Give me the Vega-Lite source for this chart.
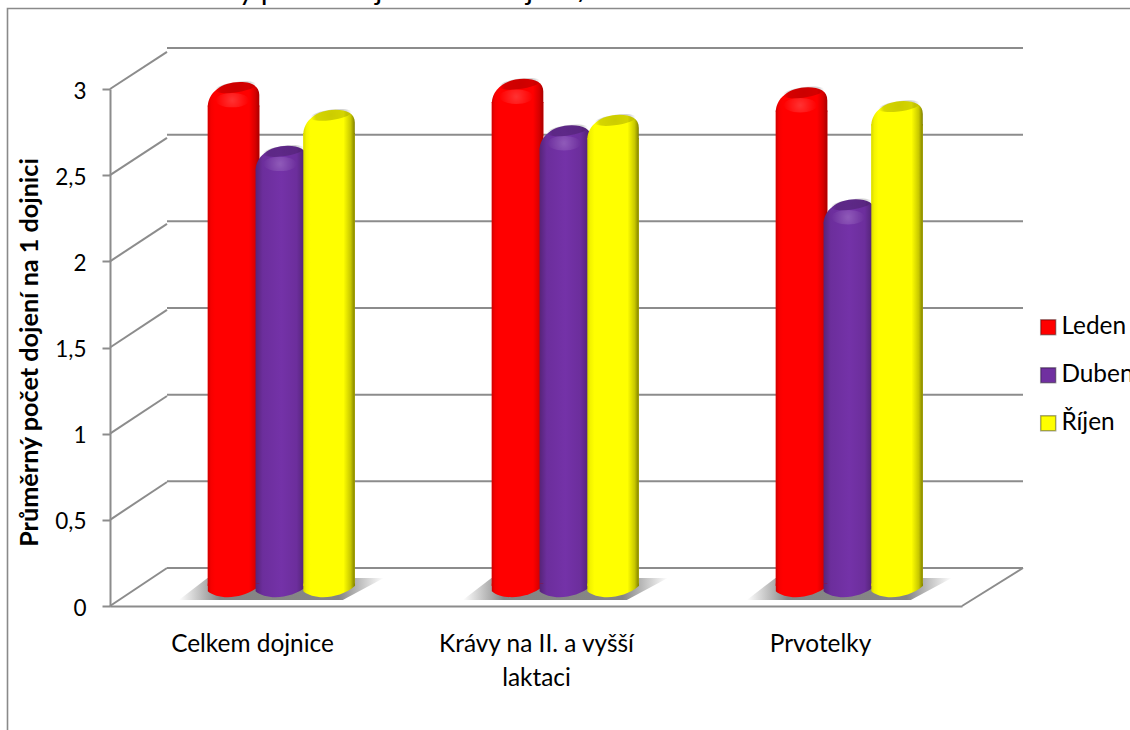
{
  "$schema": "https://vega.github.io/schema/vega-lite/v6.json",
  "width": 1130,
  "height": 730,
  "autosize": {"type": "none"},
  "padding": 0,
  "background": "white",
  "config": {"view": {"stroke": null}, "font": "Lato"},
  "params": [
    {"name": "valecLeden", "value": {"gradient": "linear", "x1": 0, "y1": 0, "x2": 1, "y2": 0, "stops": [
      {"offset": 0, "color": "#d00000"}, {"offset": 0.06, "color": "#f60000"}, {"offset": 0.14, "color": "#ff0000"},
      {"offset": 0.8, "color": "#ff0000"}, {"offset": 0.92, "color": "#d80000"}, {"offset": 1, "color": "#a80000"}]}},
    {"name": "valecDuben", "value": {"gradient": "linear", "x1": 0, "y1": 0, "x2": 1, "y2": 0, "stops": [
      {"offset": 0, "color": "#562478"}, {"offset": 0.14, "color": "#6c2e9c"}, {"offset": 0.5, "color": "#7432a8"},
      {"offset": 0.8, "color": "#6c2e9c"}, {"offset": 1, "color": "#4a2068"}]}},
    {"name": "valecRijen", "value": {"gradient": "linear", "x1": 0, "y1": 0, "x2": 1, "y2": 0, "stops": [
      {"offset": 0, "color": "#d8d800"}, {"offset": 0.06, "color": "#f4f400"}, {"offset": 0.14, "color": "#ffff00"},
      {"offset": 0.78, "color": "#ffff00"}, {"offset": 0.92, "color": "#c8c800"}, {"offset": 1, "color": "#808000"}]}}
  ],
  "datasets": {
    "dojeni": [
      {"kategorie": "Celkem dojnice", "mesic": "Leden", "hodnota": 2.87},
      {"kategorie": "Celkem dojnice", "mesic": "Duben", "hodnota": 2.50},
      {"kategorie": "Celkem dojnice", "mesic": "Říjen", "hodnota": 2.71},
      {"kategorie": "Krávy na II. a vyšší laktaci", "mesic": "Leden", "hodnota": 2.89},
      {"kategorie": "Krávy na II. a vyšší laktaci", "mesic": "Duben", "hodnota": 2.62},
      {"kategorie": "Krávy na II. a vyšší laktaci", "mesic": "Říjen", "hodnota": 2.68},
      {"kategorie": "Prvotelky", "mesic": "Leden", "hodnota": 2.84},
      {"kategorie": "Prvotelky", "mesic": "Duben", "hodnota": 2.19},
      {"kategorie": "Prvotelky", "mesic": "Říjen", "hodnota": 2.76}
    ],
    "kategorie": [
      {"kategorie": "Celkem dojnice"},
      {"kategorie": "Krávy na II. a vyšší laktaci"},
      {"kategorie": "Prvotelky"}
    ],
    "urovne": [
      {"uroven": 0}, {"uroven": 0.5}, {"uroven": 1}, {"uroven": 1.5}, {"uroven": 2}, {"uroven": 2.5}, {"uroven": 3}
    ]
  },
  "resolve": {"scale": {"x": "independent", "y": "independent"}, "axis": {"x": "independent", "y": "independent"}},
  "layer": [
    {
      "data": {"values": [{"nadpis": "Graf 11: Průměrný počet dojení na 1 dojnici/den"}]},
      "mark": {"type": "text", "align": "left", "baseline": "alphabetic", "font": "Lato", "fontSize": 29.6, "color": "black"},
      "encoding": {
        "x": {"datum": 0, "type": "quantitative", "axis": null, "scale": {"domain": [0, 1], "range": [14, 1130]}},
        "y": {"datum": 0, "type": "quantitative", "axis": null, "scale": {"domain": [0, 1], "range": [0, 730]}},
        "text": {"field": "nadpis"}
      }
    },
    {
      "data": {"values": [{}]},
      "mark": {"type": "rect", "fill": null, "stroke": "#8a8a8a", "strokeWidth": 1.6},
      "encoding": {
        "x": {"datum": 0, "type": "quantitative", "axis": null, "scale": {"domain": [0, 1], "range": [7.5, 1150]}},
        "x2": {"datum": 1},
        "y": {"datum": 0, "type": "quantitative", "axis": null, "scale": {"domain": [0, 1], "range": [8.5, 760]}},
        "y2": {"datum": 1}
      }
    },
    {
      "data": {"name": "urovne"},
      "mark": {"type": "rule", "color": "#8c8c8c", "strokeWidth": 2},
      "encoding": {
        "x": {"datum": 0, "type": "quantitative", "axis": null, "scale": {"domain": [0, 1], "range": [167, 1023]}},
        "x2": {"datum": 1},
        "y": {"field": "uroven", "type": "quantitative", "axis": null, "scale": {"domain": [0, 3], "range": [568, 48]}}
      }
    },
    {
      "data": {"name": "urovne"},
      "transform": [{"calculate": "datum.uroven * 0.9983 + 0.2205", "as": "vzadu"}],
      "mark": {"type": "rule", "color": "#8c8c8c", "strokeWidth": 2},
      "encoding": {
        "x": {"datum": 0, "type": "quantitative", "axis": null, "scale": {"domain": [0, 1], "range": [110, 167]}},
        "x2": {"datum": 1},
        "y": {
          "field": "uroven", "type": "quantitative",
          "scale": {"domain": [0, 3], "range": [606, 89], "nice": false},
          "axis": {
            "values": [0, 0.5, 1, 1.5, 2, 2.5, 3], "orient": "left", "offset": -110, "grid": false,
            "labelExpr": "replace(format(datum.value, '~g'), '.', ',')",
            "domainColor": "#8c8c8c", "domainWidth": 2, "tickColor": "#8c8c8c", "tickWidth": 2, "tickSize": 8,
            "labelFont": "Lato", "labelFontSize": 22.5, "labelColor": "black", "labelPadding": 16, "labelOffset": 2,
            "title": "Průměrný počet dojení na 1 dojnici", "titleFont": "Lato", "titleFontSize": 25.2, "titleFontWeight": "bold", "titleColor": "black", "titlePadding": 12, "titleY": 352
          }
        },
        "y2": {"field": "vzadu"}
      }
    },
    {
      "data": {"values": [{}]},
      "mark": {"type": "rule", "color": "#8c8c8c", "strokeWidth": 2},
      "encoding": {
        "x": {"datum": 0, "type": "quantitative", "axis": null, "scale": {"domain": [0, 1], "range": [962, 1023]}},
        "x2": {"datum": 1},
        "y": {"datum": 0, "type": "quantitative", "axis": null, "scale": {"domain": [0, 3], "range": [606, 89]}},
        "y2": {"datum": 0.2205}
      }
    },
    {
      "data": {"name": "kategorie"},
      "mark": {"type": "text", "text": ""},
      "encoding": {
        "x": {
          "field": "kategorie", "type": "nominal", "sort": null,
          "scale": {"range": [110, 962], "paddingInner": 0, "paddingOuter": 0},
          "axis": {
            "orient": "bottom", "offset": -124, "title": null, "labelAngle": 0, "ticks": false,
            "domainColor": "#8c8c8c", "domainWidth": 2,
            "labelFont": "Lato", "labelFontSize": 24.4, "labelColor": "black", "labelPadding": 26, "labelLineHeight": 34, "labelLimit": 400,
            "labelExpr": "datum.value == 'Krávy na II. a vyšší laktaci' ? ['Krávy na II. a vyšší', 'laktaci'] : datum.label"
          }
        }
      }
    },
    {
      "data": {"name": "kategorie"},
      "mark": {
        "type": "point", "filled": true, "opacity": 1, "size": 42025, "strokeWidth": 0,
        "shape": "M-1,0.107 L-0.72,-0.107 L1,-0.107 L0.6,0.107 Z",
        "fill": {"gradient": "linear", "x1": 0, "y1": 0, "x2": 1, "y2": 0, "stops": [
          {"offset": 0, "color": "rgba(120,120,120,0)"},
          {"offset": 0.2, "color": "rgba(120,120,120,0.9)"},
          {"offset": 0.78, "color": "rgba(120,120,120,0.9)"},
          {"offset": 1, "color": "rgba(120,120,120,0)"}
        ]}
      },
      "encoding": {
        "x": {"field": "kategorie", "type": "nominal", "sort": null, "axis": null, "scale": {"range": [139.3, 991.3], "paddingInner": 0, "paddingOuter": 0}},
        "y": {"datum": 0, "type": "quantitative", "axis": null, "scale": {"domain": [0, 3], "range": [589, 72]}}
      }
    },
    {
      "data": {"name": "dojeni"},
      "mark": {"type": "bar", "width": 51.5},
      "encoding": {
        "x": {"field": "kategorie", "type": "nominal", "sort": null, "axis": null, "scale": {"range": [139.3, 991.3], "paddingInner": 0.4956, "paddingOuter": 0.2478}},
        "xOffset": {"field": "mesic", "type": "nominal", "scale": {"domain": ["Leden", "Duben", "Říjen"]}},
        "y": {"field": "hodnota", "type": "quantitative", "axis": null, "scale": {"domain": [0, 3], "range": [600, 83]}},
        "y2": {"datum": 0.081},
        "fill": {
          "field": "mesic", "type": "nominal",
          "scale": {"domain": ["Leden", "Duben", "Říjen"], "range": ["#ff0000", "#7030a0", "#ffff00"]},
          "legend": {
            "orient": "none", "legendX": 1036, "legendY": 315, "title": null, "symbolType": "square", "symbolSize": 225,
            "symbolStrokeColor": "rgba(0,0,0,0.35)", "symbolStrokeWidth": 1.5, "labelFont": "Lato", "labelFontSize": 24.4, "labelColor": "black", "labelOffset": 1, "rowPadding": 23,
            "labelLimit": 200
          }
        }
      }
    },
    {
      "data": {"name": "dojeni"},
      "transform": [{"filter": "datum.mesic != 'Říjen'"}],
      "mark": {"type": "bar", "width": 51.5, "fill": {"expr": "datum.mesic == 'Leden' ? valecLeden : valecDuben"}},
      "encoding": {
        "x": {"field": "kategorie", "type": "nominal", "sort": null, "axis": null, "scale": {"range": [139.3, 991.3], "paddingInner": 0.4956, "paddingOuter": 0.2478}},
        "xOffset": {"field": "mesic", "type": "nominal"},
        "y": {"field": "hodnota", "type": "quantitative", "axis": null, "scale": {"domain": [0, 3], "range": [600, 83]}},
        "y2": {"datum": 0.081}
      }
    },
    {
      "data": {"name": "dojeni"},
      "transform": [{"filter": "datum.mesic != 'Říjen'"}],
      "mark": {"type": "point", "filled": true, "opacity": 1, "size": 2652, "strokeWidth": 0, "fill": {"expr": "datum.mesic == 'Leden' ? valecLeden : valecDuben"},
        "shape": "M-1,0.55 C-1,0.05 -0.5,-0.4 0.25,-0.4 C0.7,-0.4 1,-0.25 1,0.1 L1,0.55 Z"},
      "encoding": {
        "x": {"field": "kategorie", "type": "nominal", "sort": null, "axis": null, "scale": {"range": [139.3, 991.3], "paddingInner": 0.4956, "paddingOuter": 0.2478}},
        "xOffset": {"field": "mesic", "type": "nominal"},
        "y": {"field": "hodnota", "type": "quantitative", "axis": null, "scale": {"domain": [0, 3], "range": [587, 70]}}
      }
    },
    {
      "data": {"name": "dojeni"},
      "transform": [{"filter": "datum.mesic != 'Říjen'"}],
      "mark": {"type": "point", "filled": true, "opacity": 1, "size": 2652, "strokeWidth": 0, "fill": {"expr": "datum.mesic == 'Leden' ? valecLeden : valecDuben"},
        "shape": "M-1,-0.1 L-1,0.2 C-0.6,0.55 0.4,0.52 1,0 L1,-0.1 Z"},
      "encoding": {
        "x": {"field": "kategorie", "type": "nominal", "sort": null, "axis": null, "scale": {"range": [139.3, 991.3], "paddingInner": 0.4956, "paddingOuter": 0.2478}},
        "xOffset": {"field": "mesic", "type": "nominal"},
        "y": {"datum": 0.081, "type": "quantitative", "axis": null, "scale": {"domain": [0, 3], "range": [600, 83]}}
      }
    },
    {
      "data": {"name": "dojeni"},
      "transform": [{"filter": "datum.mesic != 'Říjen'"}],
      "mark": {"type": "point", "filled": true, "opacity": 1, "size": 2652, "strokeWidth": 0,
        "shape": "M-0.72,-0.1 A0.8,0.2 -8 1 1 0.88,-0.3 A0.8,0.2 -8 1 1 -0.72,-0.1 Z",
        "fill": {"gradient": "radial", "x1": 0.5, "y1": 0.5, "r1": 0, "x2": 0.5, "y2": 0.5, "r2": 0.5, "stops": [
          {"offset": 0, "color": "rgba(0,0,0,0.2)"}, {"offset": 0.75, "color": "rgba(0,0,0,0.16)"}, {"offset": 1, "color": "rgba(0,0,0,0)"}]}},
      "encoding": {
        "x": {"field": "kategorie", "type": "nominal", "sort": null, "axis": null, "scale": {"range": [139.3, 991.3], "paddingInner": 0.4956, "paddingOuter": 0.2478}},
        "xOffset": {"field": "mesic", "type": "nominal"},
        "y": {"field": "hodnota", "type": "quantitative", "axis": null, "scale": {"domain": [0, 3], "range": [587, 70]}}
      }
    },
    {
      "data": {"name": "dojeni"},
      "transform": [{"filter": "datum.mesic != 'Říjen'"}],
      "mark": {"type": "point", "filled": true, "opacity": 1, "size": 2652, "strokeWidth": 0,
        "shape": "M-0.7,0.3 A0.65,0.28 0 1 1 0.6,0.3 A0.65,0.28 0 1 1 -0.7,0.3 Z",
        "fill": {"gradient": "radial", "x1": 0.5, "y1": 0.5, "r1": 0, "x2": 0.5, "y2": 0.5, "r2": 0.5, "stops": [
          {"offset": 0, "color": "rgba(255,255,255,0.2)"}, {"offset": 1, "color": "rgba(255,255,255,0)"}]}},
      "encoding": {
        "x": {"field": "kategorie", "type": "nominal", "sort": null, "axis": null, "scale": {"range": [139.3, 991.3], "paddingInner": 0.4956, "paddingOuter": 0.2478}},
        "xOffset": {"field": "mesic", "type": "nominal"},
        "y": {"field": "hodnota", "type": "quantitative", "axis": null, "scale": {"domain": [0, 3], "range": [587, 70]}}
      }
    },
    {
      "data": {"name": "dojeni"},
      "transform": [{"filter": "datum.mesic == 'Říjen'"}],
      "mark": {"type": "bar", "width": 51.5, "fill": {"expr": "valecRijen"}},
      "encoding": {
        "x": {"field": "kategorie", "type": "nominal", "sort": null, "axis": null, "scale": {"range": [139.3, 991.3], "paddingInner": 0.4956, "paddingOuter": 0.2478}},
        "xOffset": {"field": "mesic", "type": "nominal"},
        "y": {"field": "hodnota", "type": "quantitative", "axis": null, "scale": {"domain": [0, 3], "range": [600, 83]}},
        "y2": {"datum": 0.081}
      }
    },
    {
      "data": {"name": "dojeni"},
      "transform": [{"filter": "datum.mesic == 'Říjen'"}],
      "mark": {"type": "point", "filled": true, "opacity": 1, "size": 2652, "strokeWidth": 0, "fill": {"expr": "valecRijen"},
        "shape": "M-1,0.55 C-1,0.05 -0.5,-0.4 0.25,-0.4 C0.7,-0.4 1,-0.25 1,0.1 L1,0.55 Z"},
      "encoding": {
        "x": {"field": "kategorie", "type": "nominal", "sort": null, "axis": null, "scale": {"range": [139.3, 991.3], "paddingInner": 0.4956, "paddingOuter": 0.2478}},
        "xOffset": {"field": "mesic", "type": "nominal"},
        "y": {"field": "hodnota", "type": "quantitative", "axis": null, "scale": {"domain": [0, 3], "range": [587, 70]}}
      }
    },
    {
      "data": {"name": "dojeni"},
      "transform": [{"filter": "datum.mesic == 'Říjen'"}],
      "mark": {"type": "point", "filled": true, "opacity": 1, "size": 2652, "strokeWidth": 0, "fill": {"expr": "valecRijen"},
        "shape": "M-1,-0.1 L-1,0.2 C-0.6,0.55 0.4,0.52 1,0 L1,-0.1 Z"},
      "encoding": {
        "x": {"field": "kategorie", "type": "nominal", "sort": null, "axis": null, "scale": {"range": [139.3, 991.3], "paddingInner": 0.4956, "paddingOuter": 0.2478}},
        "xOffset": {"field": "mesic", "type": "nominal"},
        "y": {"datum": 0.081, "type": "quantitative", "axis": null, "scale": {"domain": [0, 3], "range": [600, 83]}}
      }
    },
    {
      "data": {"name": "dojeni"},
      "transform": [{"filter": "datum.mesic == 'Říjen'"}],
      "mark": {"type": "point", "filled": true, "opacity": 1, "size": 2652, "strokeWidth": 0,
        "shape": "M-0.72,-0.1 A0.8,0.2 -8 1 1 0.88,-0.3 A0.8,0.2 -8 1 1 -0.72,-0.1 Z",
        "fill": {"gradient": "radial", "x1": 0.5, "y1": 0.5, "r1": 0, "x2": 0.5, "y2": 0.5, "r2": 0.5, "stops": [
          {"offset": 0, "color": "rgba(0,0,0,0.2)"}, {"offset": 0.75, "color": "rgba(0,0,0,0.16)"}, {"offset": 1, "color": "rgba(0,0,0,0)"}]}},
      "encoding": {
        "x": {"field": "kategorie", "type": "nominal", "sort": null, "axis": null, "scale": {"range": [139.3, 991.3], "paddingInner": 0.4956, "paddingOuter": 0.2478}},
        "xOffset": {"field": "mesic", "type": "nominal"},
        "y": {"field": "hodnota", "type": "quantitative", "axis": null, "scale": {"domain": [0, 3], "range": [587, 70]}}
      }
    }
  ]
}
